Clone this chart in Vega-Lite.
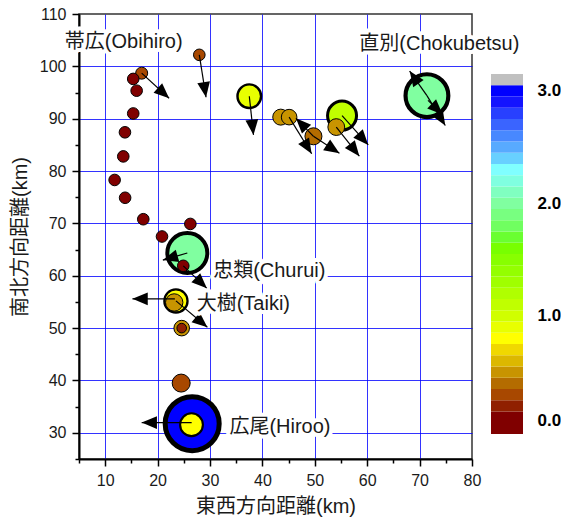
{
  "$schema": "https://vega.github.io/schema/vega-lite/v6.json",
  "padding": {"left": 9, "top": 5, "right": 0, "bottom": 0},
  "bounds": "flush",
  "spacing": 19,
  "config": {
    "font": "Liberation Sans, Noto Sans CJK JP",
    "view": {"stroke": "#333333", "strokeWidth": 1.5},
    "axis": {"labelFont": "Liberation Sans, Noto Sans CJK JP", "titleFont": "Liberation Sans, Noto Sans CJK JP", "labelColor": "#1a1a1a", "titleColor": "#1a1a1a"}
  },
  "datasets": {
    "circles": [
      {"x": 27.96, "y": 102.2, "v": 0.25, "amp": 0.58},
      {"x": 16.96, "y": 98.7, "v": 0.25, "amp": 0.6},
      {"x": 15.35, "y": 97.6, "v": 0.05, "amp": 0.58},
      {"x": 16.0, "y": 95.35, "v": 0.05, "amp": 0.58},
      {"x": 15.35, "y": 91.0, "v": 0.05, "amp": 0.58},
      {"x": 13.77, "y": 87.4, "v": 0.05, "amp": 0.58},
      {"x": 13.45, "y": 82.8, "v": 0.05, "amp": 0.58},
      {"x": 11.8, "y": 78.3, "v": 0.05, "amp": 0.58},
      {"x": 13.8, "y": 74.9, "v": 0.05, "amp": 0.58},
      {"x": 17.27, "y": 70.8, "v": 0.05, "amp": 0.58},
      {"x": 20.84, "y": 67.5, "v": 0.05, "amp": 0.58},
      {"x": 26.25, "y": 69.9, "v": 0.05, "amp": 0.58},
      {"x": 24.9, "y": 61.9, "v": 0.05, "amp": 0.58},
      {"x": 25.67, "y": 64.35, "v": 1.95, "amp": 2.0},
      {"x": 23.5, "y": 55.2, "v": 0.75, "amp": 1.16},
      {"x": 23.17, "y": 54.9, "v": 0.45, "amp": 0.87},
      {"x": 24.6, "y": 50.0, "v": 0.45, "amp": 0.78},
      {"x": 24.6, "y": 50.0, "v": 0.15, "amp": 0.48},
      {"x": 24.5, "y": 39.5, "v": 0.25, "amp": 0.9},
      {"x": 26.6, "y": 31.75, "v": 2.95, "amp": 2.7},
      {"x": 26.47, "y": 31.55, "v": 0.75, "amp": 1.14},
      {"x": 37.5, "y": 94.3, "v": 0.85, "amp": 1.18},
      {"x": 43.5, "y": 90.3, "v": 0.45, "amp": 0.8},
      {"x": 45.1, "y": 90.3, "v": 0.45, "amp": 0.78},
      {"x": 49.74, "y": 86.64, "v": 0.35, "amp": 0.85},
      {"x": 55.2, "y": 90.6, "v": 1.05, "amp": 1.45},
      {"x": 54.1, "y": 88.4, "v": 0.45, "amp": 0.84},
      {"x": 71.4, "y": 94.4, "v": 1.95, "amp": 2.14}
    ],
    "arrows": [
      {"x": 27.96, "y": 102.2, "x2": 29.24, "y2": 94.1, "az": 171.0},
      {"x": 16.96, "y": 98.7, "x2": 22.2, "y2": 93.9, "az": 132.5},
      {"x": 37.5, "y": 94.3, "x2": 38.3, "y2": 86.9, "az": 173.8},
      {"x": 45.1, "y": 90.3, "x2": 49.4, "y2": 83.3, "az": 148.4},
      {"x": 49.74, "y": 86.64, "x2": 46.4, "y2": 90.1, "az": 316.0},
      {"x": 49.74, "y": 86.64, "x2": 54.7, "y2": 83.4, "az": 123.2},
      {"x": 55.2, "y": 90.6, "x2": 60.2, "y2": 85.0, "az": 138.2},
      {"x": 54.1, "y": 88.4, "x2": 58.5, "y2": 82.85, "az": 141.6},
      {"x": 71.4, "y": 94.4, "x2": 68.1, "y2": 99.1, "az": 324.9},
      {"x": 71.4, "y": 94.4, "x2": 74.9, "y2": 88.7, "az": 148.4},
      {"x": 71.6, "y": 93.5, "x2": 74.4, "y2": 90.8, "az": 134.0},
      {"x": 25.67, "y": 64.35, "x2": 21.0, "y2": 63.0, "az": 253.9},
      {"x": 24.9, "y": 61.9, "x2": 29.4, "y2": 57.6, "az": 133.7},
      {"x": 23.3, "y": 55.6, "x2": 15.2, "y2": 55.6, "az": 270},
      {"x": 23.5, "y": 55.2, "x2": 29.5, "y2": 50.15, "az": 130.1},
      {"x": 26.5, "y": 31.95, "x2": 16.96, "y2": 31.95, "az": 270}
    ],
    "labels": [
      {"x": 2.3, "y": 104.7, "label": "帯広(Obihiro)"},
      {"x": 58.5, "y": 104.3, "label": "直別(Chokubetsu)"},
      {"x": 30.6, "y": 60.9, "label": "忠類(Churui)"},
      {"x": 27.46, "y": 54.6, "label": "大樹(Taiki)"},
      {"x": 33.7, "y": 31.2, "label": "広尾(Hiroo)"}
    ],
    "bands": [
      {"lo": -0.1, "hi": 0.1, "v": 0.05},
      {"lo": 0.1, "hi": 0.2, "v": 0.15},
      {"lo": 0.2, "hi": 0.3, "v": 0.25},
      {"lo": 0.3, "hi": 0.4, "v": 0.35},
      {"lo": 0.4, "hi": 0.5, "v": 0.45},
      {"lo": 0.5, "hi": 0.6, "v": 0.55},
      {"lo": 0.6, "hi": 0.7, "v": 0.65},
      {"lo": 0.7, "hi": 0.8, "v": 0.75},
      {"lo": 0.8, "hi": 0.9, "v": 0.85},
      {"lo": 0.9, "hi": 1.0, "v": 0.95},
      {"lo": 1.0, "hi": 1.1, "v": 1.05},
      {"lo": 1.1, "hi": 1.2, "v": 1.15},
      {"lo": 1.2, "hi": 1.3, "v": 1.25},
      {"lo": 1.3, "hi": 1.4, "v": 1.35},
      {"lo": 1.4, "hi": 1.5, "v": 1.45},
      {"lo": 1.5, "hi": 1.6, "v": 1.55},
      {"lo": 1.6, "hi": 1.7, "v": 1.65},
      {"lo": 1.7, "hi": 1.8, "v": 1.75},
      {"lo": 1.8, "hi": 1.9, "v": 1.85},
      {"lo": 1.9, "hi": 2.0, "v": 1.95},
      {"lo": 2.0, "hi": 2.1, "v": 2.05},
      {"lo": 2.1, "hi": 2.2, "v": 2.15},
      {"lo": 2.2, "hi": 2.3, "v": 2.25},
      {"lo": 2.3, "hi": 2.4, "v": 2.35},
      {"lo": 2.4, "hi": 2.5, "v": 2.45},
      {"lo": 2.5, "hi": 2.6, "v": 2.55},
      {"lo": 2.6, "hi": 2.7, "v": 2.65},
      {"lo": 2.7, "hi": 2.8, "v": 2.75},
      {"lo": 2.8, "hi": 2.9, "v": 2.85},
      {"lo": 2.9, "hi": 3.0, "v": 2.95},
      {"lo": 3.0, "hi": 3.1, "v": 3.05}
    ]
  },
  "hconcat": [
    {
      "width": 393,
      "height": 445,
      "resolve": {"axis": {"x": "independent", "y": "independent"}},
      "layer": [
        {
          "data": {"name": "circles"},
          "mark": {"type": "point", "shape": "circle", "filled": true, "opacity": 1, "stroke": "black"},
          "encoding": {
            "x": {
              "field": "x", "type": "quantitative",
              "scale": {"domain": [5, 80], "nice": false, "zero": false},
              "axis": {
                "orient": "bottom",
                "title": "東西方向距離(km)",
                "values": [10, 20, 30, 40, 50, 60, 70, 80],
                "format": "d",
                "labelFlush": false,
                "labelOverlap": false,
                "grid": false,
                "domainColor": "black",
                "domainWidth": 2,
                "tickColor": "black",
                "tickWidth": 1.5,
                "tickSize": 7,
                "labelFontSize": 16,
                "labelPadding": 6,
                "titleFontSize": 20,
                "titleFontWeight": "normal",
                "titlePadding": 8
              }
            },
            "y": {
              "field": "y", "type": "quantitative",
              "scale": {"domain": [25, 110], "nice": false, "zero": false},
              "axis": {
                "orient": "left",
                "title": "南北方向距離(km)",
                "values": [30, 40, 50, 60, 70, 80, 90, 100, 110],
                "format": "d",
                "labelFlush": false,
                "labelOverlap": false,
                "grid": false,
                "domainColor": "black",
                "domainWidth": 2,
                "tickColor": "black",
                "tickWidth": 1.5,
                "tickSize": 7,
                "labelFontSize": 16,
                "labelPadding": 6,
                "titleFontSize": 20,
                "titleFontWeight": "normal",
                "titlePadding": 9
              }
            },
            "color": {
              "field": "v", "type": "quantitative",
              "scale": {
                "type": "threshold",
                "domain": [0.1, 0.2, 0.3, 0.4, 0.5, 0.6, 0.7, 0.8, 0.9, 1.0, 1.1, 1.2, 1.3, 1.4, 1.5, 1.6, 1.7, 1.8, 1.9, 2.0, 2.1, 2.2, 2.3, 2.4, 2.5, 2.6, 2.7, 2.8, 2.9, 3.0],
                "range": ["#800000", "#902000", "#a84800", "#b46c00", "#c89400", "#dcb800", "#f0d800", "#ffff00", "#e8ff00", "#d0ff00", "#c0ff00", "#b0ff00", "#a0ff00", "#94ff00", "#88ff00", "#78ff00", "#6aff30", "#70ff60", "#78ff80", "#80ffa0", "#80ffc0", "#80ffe0", "#80ffff", "#68d0ff", "#58aaff", "#4888ff", "#3a64ff", "#2840ff", "#1414ff", "#0000ff", "#c0c0c0"]
              },
              "legend": null
            },
            "size": {
              "field": "amp", "type": "quantitative",
              "scale": {"type": "pow", "exponent": 2, "domain": [0, 3], "range": [0, 3600], "zero": true},
              "legend": null
            },
            "strokeWidth": {
              "field": "amp", "type": "quantitative",
              "scale": {"domain": [1.0, 1.2, 2.65], "range": [1, 2.6, 5], "clamp": true},
              "legend": null
            },
            "order": {"field": "amp", "sort": "descending"}
          }
        },
        {
          "data": {"name": "arrows"},
          "mark": {"type": "rule", "color": "black", "strokeWidth": 1.2},
          "encoding": {
            "x": {"field": "x", "type": "quantitative",
              "axis": {"orient": "bottom", "title": null, "values": [5, 15, 25, 35, 45, 55, 65, 75], "labels": false, "domain": false, "grid": false, "tickColor": "black", "tickWidth": 1.5, "tickSize": 4}},
            "y": {"field": "y", "type": "quantitative",
              "axis": {"orient": "left", "title": null, "values": [25, 35, 45, 55, 65, 75, 85, 95, 105], "labels": false, "domain": false, "grid": false, "tickColor": "black", "tickWidth": 1.5, "tickSize": 4}},
            "x2": {"field": "x2"},
            "y2": {"field": "y2"}
          }
        },
        {
          "data": {"name": "arrows"},
          "mark": {"type": "point", "shape": "M0,0L0.5,1.2L-0.5,1.2Z", "filled": true, "color": "black", "opacity": 1, "size": 650},
          "encoding": {
            "x": {"field": "x2", "type": "quantitative",
              "axis": {"orient": "bottom", "title": null, "values": [10, 20, 30, 40, 50, 60, 70], "labels": false, "domain": false, "ticks": false, "grid": true, "gridColor": "#0000ff", "gridOpacity": 0.8, "gridWidth": 1}},
            "y": {"field": "y2", "type": "quantitative",
              "axis": {"orient": "left", "title": null, "values": [30, 40, 50, 60, 70, 80, 90, 100], "labels": false, "domain": false, "ticks": false, "grid": true, "gridColor": "#0000ff", "gridOpacity": 0.8, "gridWidth": 1}},
            "angle": {"field": "az", "type": "quantitative", "scale": {"domain": [0, 360], "range": [0, 360]}, "legend": null}
          }
        },
        {
          "data": {"name": "labels"},
          "mark": {"type": "text", "align": "left", "baseline": "middle", "fontSize": 20, "fill": "white", "stroke": "white", "strokeWidth": 8, "strokeJoin": "round"},
          "encoding": {
            "x": {"field": "x", "type": "quantitative", "axis": null},
            "y": {"field": "y", "type": "quantitative", "axis": null},
            "text": {"field": "label"}
          }
        },
        {
          "data": {"name": "labels"},
          "mark": {"type": "text", "align": "left", "baseline": "middle", "fontSize": 20, "color": "#1a1a1a"},
          "encoding": {
            "x": {"field": "x", "type": "quantitative", "axis": null},
            "y": {"field": "y", "type": "quantitative", "axis": null},
            "text": {"field": "label"}
          }
        }
      ]
    },
    {
      "width": 32,
      "height": 445,
      "view": {"stroke": null},
      "data": {"name": "bands"},
      "mark": {"type": "rect"},
      "encoding": {
        "y": {
          "field": "lo", "type": "quantitative",
          "scale": {"domain": [-0.322, 3.633], "nice": false, "zero": false},
          "axis": {
            "orient": "right",
            "values": [0.02, 0.95, 1.95, 2.95],
            "labelExpr": "format(round(datum.value), '.1f')",
            "domain": false,
            "ticks": false,
            "grid": false,
            "labelFontSize": 17,
            "labelFontWeight": "bold",
            "labelColor": "black",
            "labelPadding": 14,
            "labelFlush": false,
            "labelOverlap": false,
            "title": null
          }
        },
        "y2": {"field": "hi"},
        "color": {
          "field": "v", "type": "quantitative",
          "scale": {
            "type": "threshold",
            "domain": [0.1, 0.2, 0.3, 0.4, 0.5, 0.6, 0.7, 0.8, 0.9, 1.0, 1.1, 1.2, 1.3, 1.4, 1.5, 1.6, 1.7, 1.8, 1.9, 2.0, 2.1, 2.2, 2.3, 2.4, 2.5, 2.6, 2.7, 2.8, 2.9, 3.0],
            "range": ["#800000", "#902000", "#a84800", "#b46c00", "#c89400", "#dcb800", "#f0d800", "#ffff00", "#e8ff00", "#d0ff00", "#c0ff00", "#b0ff00", "#a0ff00", "#94ff00", "#88ff00", "#78ff00", "#6aff30", "#70ff60", "#78ff80", "#80ffa0", "#80ffc0", "#80ffe0", "#80ffff", "#68d0ff", "#58aaff", "#4888ff", "#3a64ff", "#2840ff", "#1414ff", "#0000ff", "#c0c0c0"]
          },
          "legend": null
        }
      }
    }
  ]
}
